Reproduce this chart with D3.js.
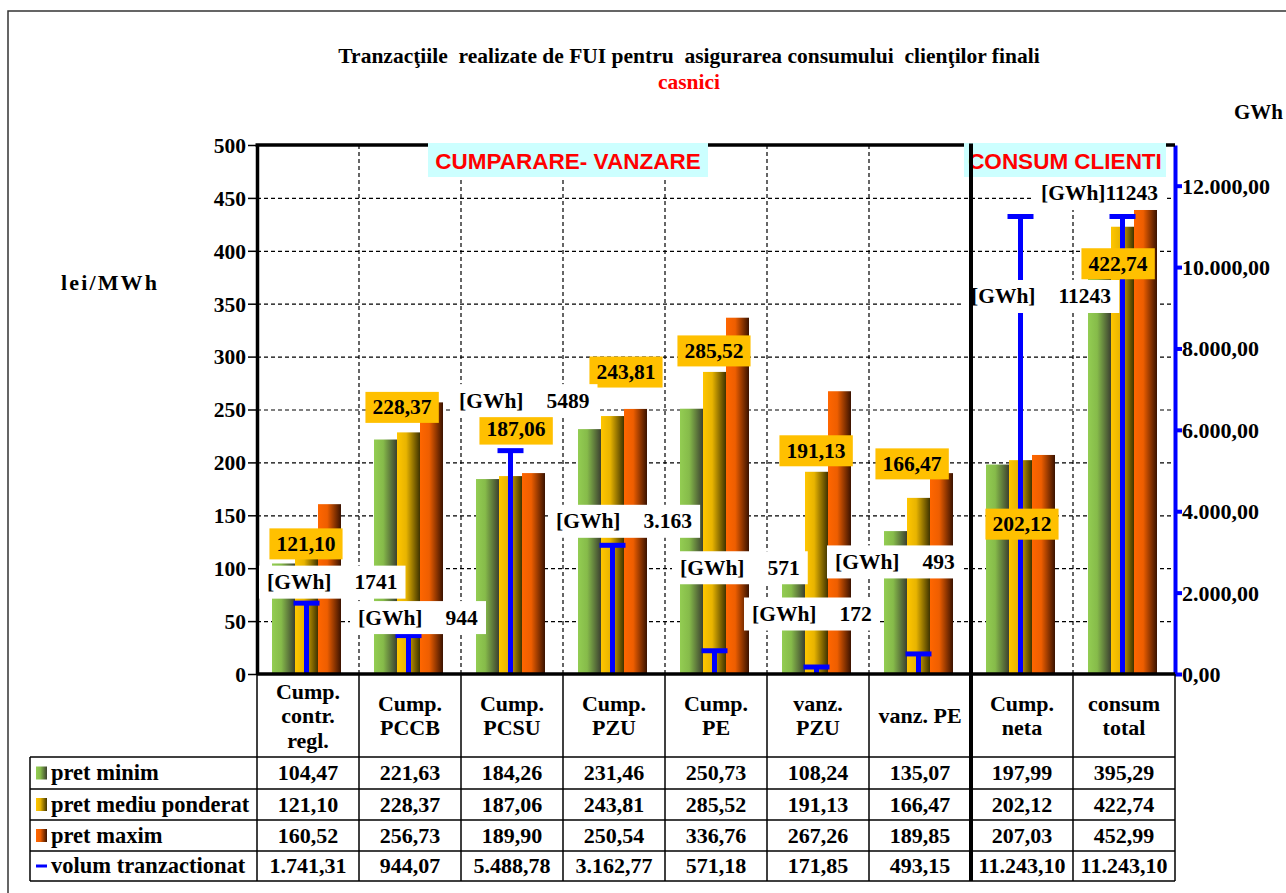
<!DOCTYPE html>
<html>
<head>
<meta charset="utf-8">
<script src="https://cdn.jsdelivr.net/npm/d3@7"></script>
<style>
  body { margin: 0; background: #fff; }
  text { font-family: "Liberation Serif", "Times New Roman", serif; font-weight: bold; fill: #000; }
</style>
</head>
<body>
<svg id="chart"></svg>
<script>
// data
const categories = ["Cump.\ncontr.\nregl.", "Cump.\nPCCB", "Cump.\nPCSU", "Cump.\nPZU", "Cump.\nPE", "vanz.\nPZU", "vanz. PE", "Cump.\nneta", "consum\ntotal"];
const pretMinim = [104.47, 221.63, 184.26, 231.46, 250.73, 108.24, 135.07, 197.99, 395.29];
const pretMediu = [121.10, 228.37, 187.06, 243.81, 285.52, 191.13, 166.47, 202.12, 422.74];
const pretMaxim = [160.52, 256.73, 189.90, 250.54, 336.76, 267.26, 189.85, 207.03, 452.99];
const volum = [1741.31, 944.07, 5488.78, 3162.77, 571.18, 171.85, 493.15, 11243.10, 11243.10];
const volumLabels = ["1741", "944", "5489", "3.163", "571", "172", "493", "11243", "11243"];
const seriesNames = ["pret minim", "pret mediu ponderat", "pret maxim", "volum tranzactionat"];
const leftTicks = [0, 50, 100, 150, 200, 250, 300, 350, 400, 450, 500];
const rightTicks = [0, 2000, 4000, 6000, 8000, 10000, 12000];

// label placement (offsets from the data point, px)
const meanLabelDx = [-2, -8, 4, 12, -2, -2, -8, 0, -6];
const meanLabelDy = [-2, -25, -47, -44, -21, -21, -34, 64, 37];
const volLabelDx = [10, -1, -2, -7, 15, -15, -34, 0, -32];
const volLabelDy = [-21, -18, -50, -24, -83, -53, -92, 80, -23];
const volLabelGap = [23, 23, 23, 23, 23, 23, 23, 23, 0];

const W = 1286, H = 893;
const plot = { left: 257, right: 1175, top: 145, bottom: 674 };
const tableRows = [757, 789, 820, 851, 881];

const ro = d3.formatLocale({ decimal: ",", thousands: ".", grouping: [3], currency: ["", ""] });
const fmt = ro.format(",.2f");

const svg = d3.select("#chart").attr("width", W).attr("height", H);
svg.append("rect").attr("width", W).attr("height", H).attr("fill", "#fff");

// outer frame
svg.append("path").attr("d", `M8,${H + 5}V11H${W + 5}`)
  .attr("fill", "none").attr("stroke", "#333").attr("stroke-width", 1.5);

// gradients
const colors = [
  ["#93cd52", "#86bb4a", "#3c4030"],
  ["#ffc600", "#e8b400", "#3f3300"],
  ["#ff6600", "#ee5e00", "#3a1200"],
];
const defs = svg.append("defs");
colors.forEach((c, i) => {
  const g = defs.append("linearGradient").attr("id", "grad" + i)
    .attr("x1", 0).attr("x2", 1).attr("y1", 0).attr("y2", 0);
  g.append("stop").attr("offset", 0).attr("stop-color", c[0]);
  g.append("stop").attr("offset", 0.4).attr("stop-color", c[1]);
  g.append("stop").attr("offset", 1).attr("stop-color", c[2]);
});

// scales
const x = d3.scaleBand().domain(categories).range([plot.left, plot.right]);
const xIn = d3.scaleBand().domain([0, 1, 2]).range([15, 84]);
const yL = d3.scaleLinear().domain([0, 500]).range([plot.bottom, plot.top]);
const yR = d3.scaleLinear().domain([0, 13000]).range([plot.bottom, plot.top]);
const sepIndex = 7;

// title
svg.append("text").attr("x", 689).attr("y", 63).attr("text-anchor", "middle")
  .style("font-size", "21.5px").style("white-space", "pre")
  .text("Tranzacţiile  realizate de FUI pentru  asigurarea consumului  clienţilor finali");
svg.append("text").attr("x", 689).attr("y", 89).attr("text-anchor", "middle")
  .style("font-size", "21.5px").style("fill", "#ff0000").text("casnici");

svg.append("text").attr("x", 61).attr("y", 290).style("font-size", "22px")
  .attr("textLength", 96).attr("lengthAdjust", "spacing").text("lei/MWh");
svg.append("text").attr("x", 1283).attr("y", 119).attr("text-anchor", "end").style("font-size", "21px").text("GWh");

// horizontal dashed grid
svg.append("g")
  .attr("transform", `translate(${plot.left},0)`)
  .call(d3.axisLeft(yL).tickValues(leftTicks.slice(1, -1)).tickSize(-(plot.right - plot.left)).tickFormat(""))
  .call((g) => g.select(".domain").remove())
  .selectAll(".tick line")
  .attr("stroke", "#000").attr("stroke-width", 1.2).attr("stroke-dasharray", "4,3");

// vertical dashed grid at category boundaries
const grid = svg.append("g");
categories.slice(1).forEach((c, i) => {
  if (i + 1 === sepIndex) return;
  grid.append("line").attr("x1", x(c)).attr("x2", x(c))
    .attr("y1", plot.top).attr("y2", plot.bottom)
    .attr("stroke", "#000").attr("stroke-width", 1.2).attr("stroke-dasharray", "4,3");
});

// bars
const prices = [pretMinim, pretMediu, pretMaxim];
prices.forEach((vals, s) => {
  svg.append("g").selectAll("rect").data(vals).join("rect")
    .attr("x", (d, i) => x(categories[i]) + xIn(s))
    .attr("y", (d) => yL(d))
    .attr("width", xIn.bandwidth())
    .attr("height", (d) => yL(0) - yL(d))
    .attr("fill", `url(#grad${s})`);
});

// volume as blue T markers (right axis)
const volG = svg.append("g");
volum.forEach((v, i) => {
  const cx = x(categories[i]) + xIn(1) + xIn.bandwidth() / 2;
  volG.append("line").attr("x1", cx).attr("x2", cx)
    .attr("y1", yR(0)).attr("y2", yR(v))
    .attr("stroke", "#0000ff").attr("stroke-width", 5);
  volG.append("line").attr("x1", cx - 13).attr("x2", cx + 13)
    .attr("y1", yR(v)).attr("y2", yR(v))
    .attr("stroke", "#0000ff").attr("stroke-width", 5);
});

// left axis
svg.append("g")
  .attr("transform", `translate(${plot.left},0)`)
  .call(d3.axisLeft(yL).tickValues(leftTicks).tickSize(9).tickSizeOuter(0).tickPadding(2))
  .call((g) => g.select(".domain").attr("stroke", "#000").attr("stroke-width", 3.5))
  .call((g) => g.selectAll(".tick line").attr("stroke", "#000").attr("stroke-width", 1.5))
  .call((g) => g.selectAll(".tick text")
    .style("font-family", '"Liberation Serif", serif').style("font-size", "21.5px")
    .style("font-weight", "bold").attr("fill", "#000").attr("dy", "0.34em"));

// right axis
svg.append("g")
  .attr("transform", `translate(${plot.right},0)`)
  .call(d3.axisRight(yR).tickValues(rightTicks).tickSize(7).tickSizeOuter(0).tickPadding(0).tickFormat(fmt))
  .call((g) => g.select(".domain").attr("stroke", "#0000ff").attr("stroke-width", 4))
  .call((g) => g.selectAll(".tick line").attr("stroke", "#0000ff").attr("stroke-width", 4))
  .call((g) => g.selectAll(".tick text")
    .style("font-family", '"Liberation Serif", serif').style("font-size", "22px")
    .style("font-weight", "bold").attr("fill", "#000").attr("dy", "0.34em"));

// zero line and top border
svg.append("line").attr("x1", plot.left).attr("x2", plot.right)
  .attr("y1", plot.bottom).attr("y2", plot.bottom).attr("stroke", "#000").attr("stroke-width", 3.5);
svg.append("line").attr("x1", plot.left - 1.5).attr("x2", plot.right)
  .attr("y1", plot.top).attr("y2", plot.top).attr("stroke", "#000").attr("stroke-width", 3.5);

// section boxes
function sectionBox(x0, x1, label) {
  svg.append("rect").attr("x", x0).attr("y", 143).attr("width", x1 - x0).attr("height", 34).attr("fill", "#ccffff");
  svg.append("text").attr("x", (x0 + x1) / 2).attr("y", 169).attr("text-anchor", "middle")
    .style("font-family", '"Liberation Sans", Arial, sans-serif').style("font-size", "22.5px")
    .style("fill", "#ff0000").text(label);
}
sectionBox(428, 708, "CUMPARARE- VANZARE");
sectionBox(964, 1166, "CONSUM CLIENTI");

// mean price labels (yellow)
const labG = svg.append("g");
pretMediu.forEach((v, i) => {
  const cx = x(categories[i]) + x.bandwidth() / 2 + meanLabelDx[i];
  const cy = yL(v) + meanLabelDy[i];
  const r = labG.append("rect").attr("fill", "#ffc000");
  const t = labG.append("text").attr("x", cx).attr("y", cy + 7).attr("text-anchor", "middle")
    .style("font-size", "21.5px").text(fmt(v).replace(/\./g, ""));
  const b = t.node().getBBox();
  r.attr("x", b.x - 7).attr("y", cy - 15.5).attr("width", b.width + 14).attr("height", 31);
});

// volume labels (white)
volum.forEach((v, i) => {
  const tx = x(categories[i]) + volLabelDx[i];
  const cy = yR(v) + volLabelDy[i];
  const r = labG.append("rect").attr("fill", "#fff");
  const t = labG.append("text").attr("x", tx).attr("y", cy + 7).style("font-size", "21.5px");
  t.append("tspan").text("[GWh]");
  t.append("tspan").attr("dx", volLabelGap[i]).text(volumLabels[i]);
  const b = t.node().getBBox();
  r.attr("x", b.x - 8).attr("y", cy - 16.5).attr("width", b.width + 16).attr("height", 33);
});

// data table
const tbl = svg.append("g");
const xEnd = plot.right;
tableRows.forEach((y) => {
  tbl.append("line").attr("x1", 30).attr("x2", xEnd).attr("y1", y).attr("y2", y)
    .attr("stroke", "#000").attr("stroke-width", 1.5);
});
tbl.append("line").attr("x1", 30).attr("x2", 30).attr("y1", tableRows[0]).attr("y2", tableRows[4])
  .attr("stroke", "#000").attr("stroke-width", 1.5);
categories.forEach((c, i) => {
  tbl.append("line").attr("x1", x(c)).attr("x2", x(c)).attr("y1", plot.bottom).attr("y2", tableRows[4])
    .attr("stroke", "#000").attr("stroke-width", 1.5);
});
tbl.append("line").attr("x1", xEnd).attr("x2", xEnd).attr("y1", plot.bottom).attr("y2", tableRows[4])
  .attr("stroke", "#000").attr("stroke-width", 1.5);

// category headers
categories.forEach((c) => {
  const lines = c.split("\n");
  const cx = x(c) + x.bandwidth() / 2;
  const t = tbl.append("text").attr("text-anchor", "middle").style("font-size", "22px");
  lines.forEach((l, k) => {
    t.append("tspan").attr("x", cx)
      .attr("y", 716 + 7 + (k - (lines.length - 1) / 2) * 24.5).text(l);
  });
});

// row labels + values
const rowValues = [pretMinim, pretMediu, pretMaxim, volum];
rowValues.forEach((vals, r) => {
  const cy = (tableRows[r] + tableRows[r + 1]) / 2;
  if (r < 3) {
    tbl.append("rect").attr("x", 36).attr("y", cy - 6.5).attr("width", 11).attr("height", 13)
      .attr("fill", `url(#grad${r})`);
  } else {
    tbl.append("line").attr("x1", 36).attr("x2", 47).attr("y1", cy).attr("y2", cy)
      .attr("stroke", "#0000ff").attr("stroke-width", 3);
  }
  tbl.append("text").attr("x", 51).attr("y", cy + 7).style("font-size", "22.5px").text(seriesNames[r]);
  vals.forEach((v, i) => {
    tbl.append("text").attr("x", x(categories[i]) + x.bandwidth() / 2).attr("y", cy + 7)
      .attr("text-anchor", "middle").style("font-size", "22px").text(fmt(v));
  });
});

// separator between sections
svg.append("line").attr("x1", x(categories[sepIndex])).attr("x2", x(categories[sepIndex]))
  .attr("y1", plot.top - 1.5).attr("y2", tableRows[4])
  .attr("stroke", "#000").attr("stroke-width", 4);
</script>
</body>
</html>
